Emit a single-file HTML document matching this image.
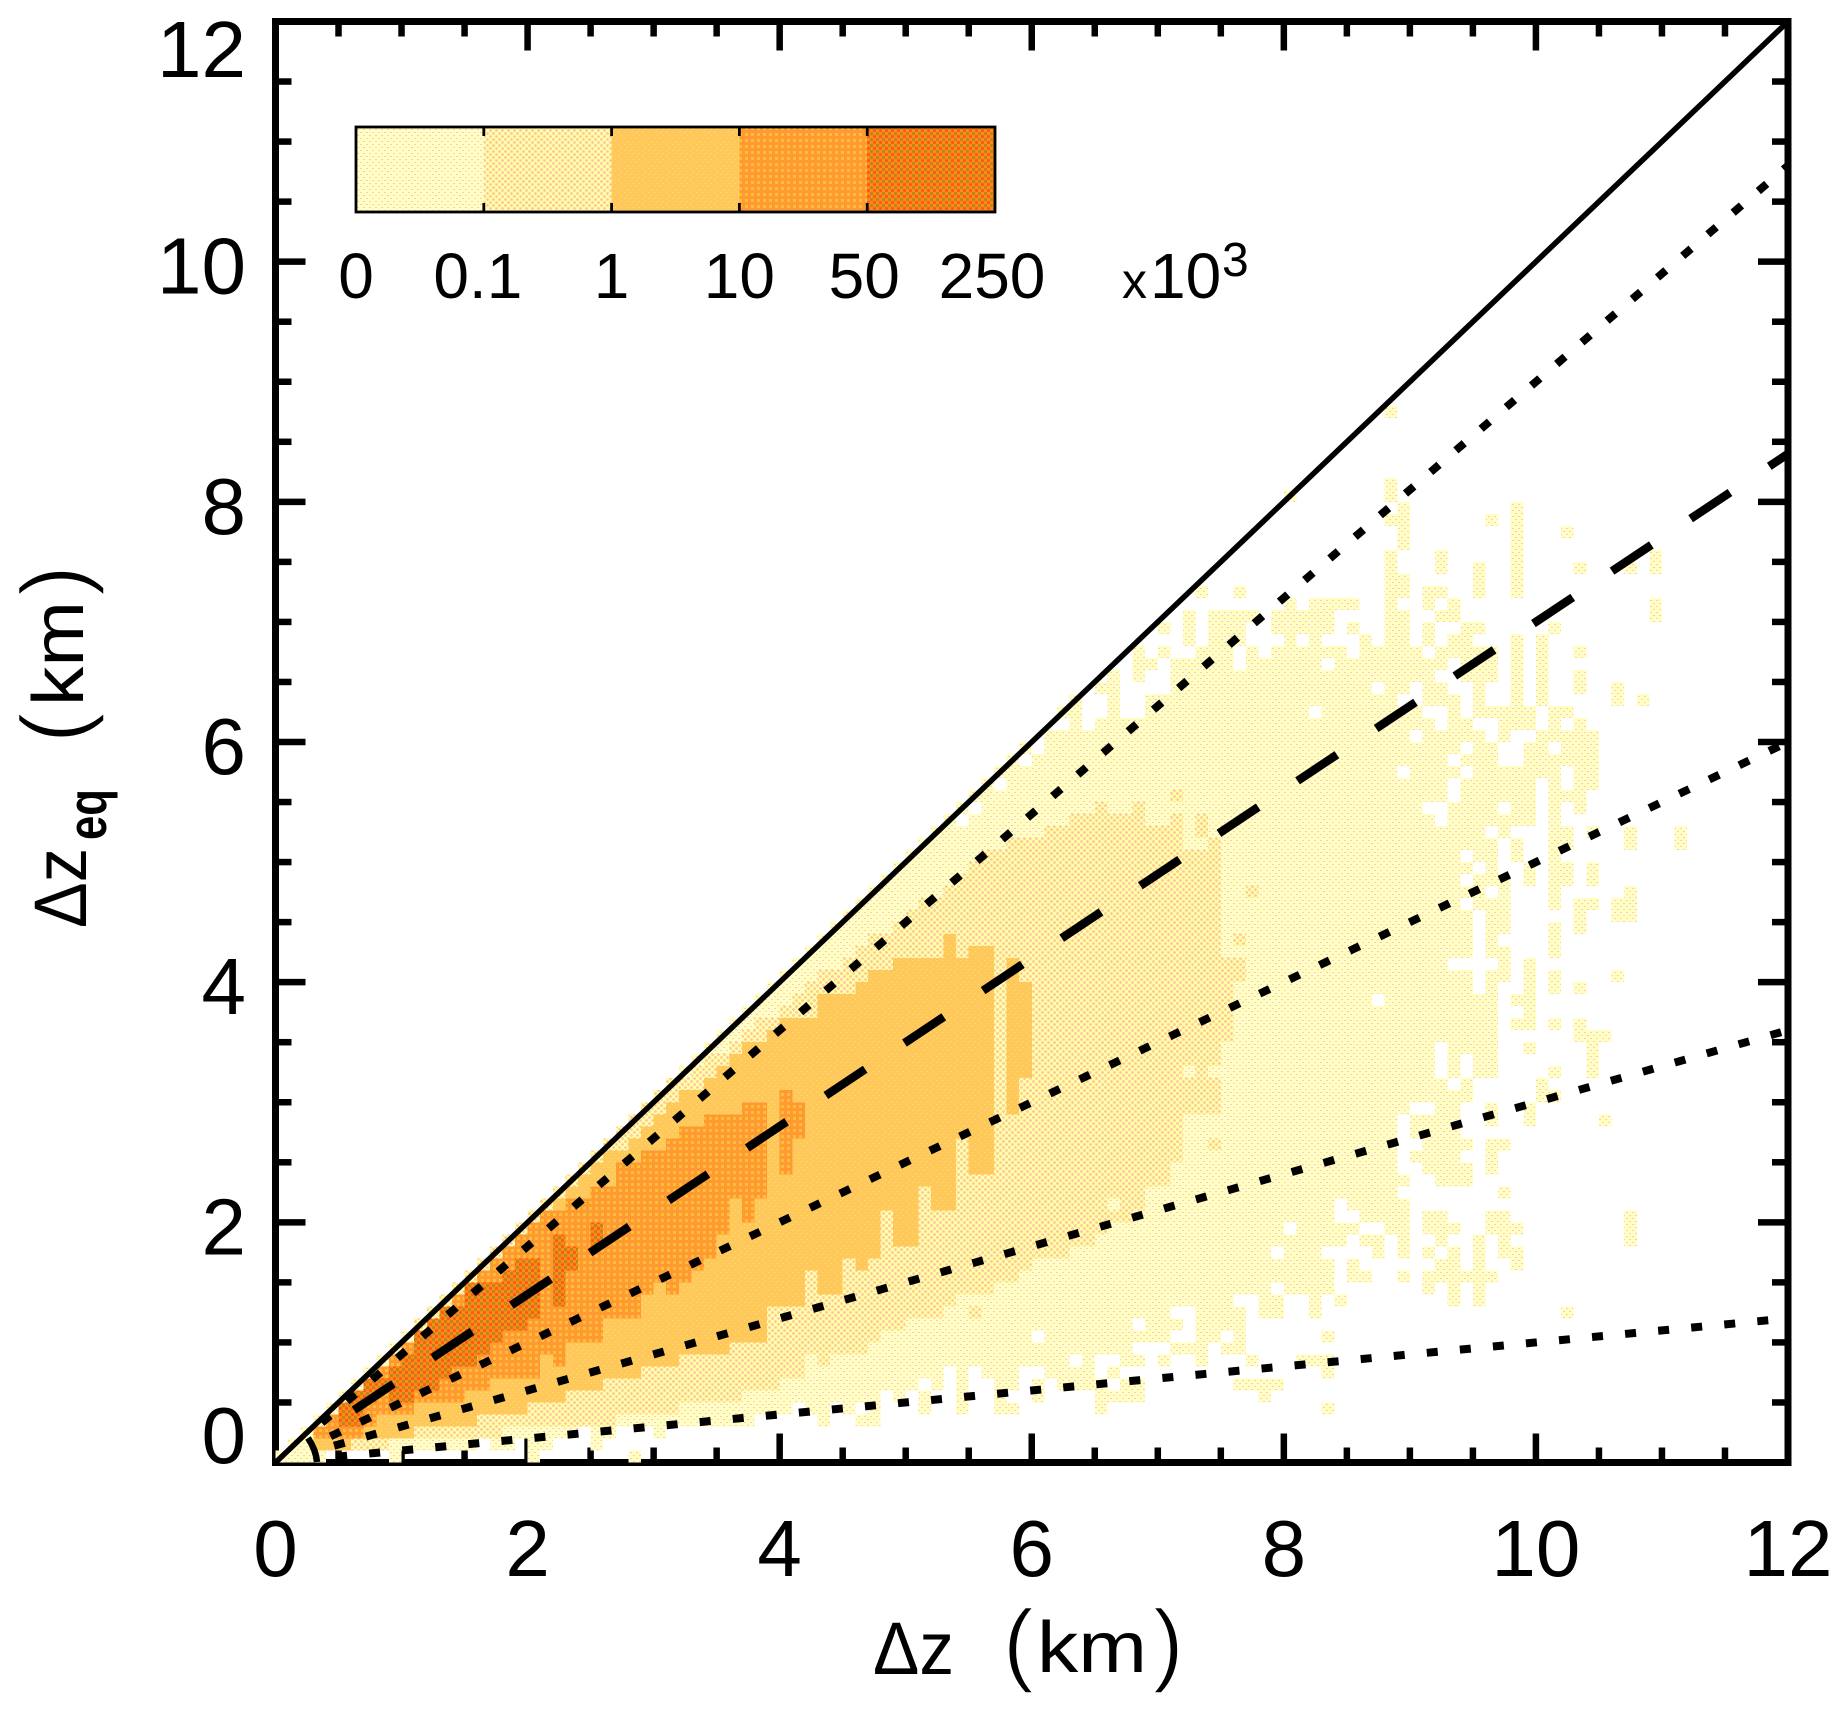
<!DOCTYPE html>
<html lang="en">
<head>
<meta charset="utf-8">
<title>Delta z equivalent vs Delta z density chart</title>
<style>
html,body{margin:0;padding:0;background:#fff;}
svg{display:block;}
text{font-family:"Liberation Sans",sans-serif;fill:#000;}
</style>
</head>
<body>
<svg id="chart" xmlns="http://www.w3.org/2000/svg" width="1847" height="1713" viewBox="0 0 1847 1713">
<defs>
<pattern id="p1" patternUnits="userSpaceOnUse" width="6" height="6"><rect width="6" height="6" fill="#FFFFC2"/><rect x="0" y="0" width="2" height="1" fill="#FFC8C8"/><rect x="3" y="3" width="2" height="1" fill="#FFC8C8"/></pattern>
<pattern id="p2" patternUnits="userSpaceOnUse" width="6" height="6"><rect width="6" height="6" fill="#FFFFA6"/><circle cx="1.5" cy="1.5" r="1.4" fill="#FFC4A0"/><circle cx="4.5" cy="4.5" r="1.4" fill="#FFC4A0"/></pattern>
<pattern id="p3" patternUnits="userSpaceOnUse" width="6" height="6"><rect width="6" height="6" fill="#FFC85F"/><rect x="0" y="0" width="1" height="1" fill="#FFE838"/><rect x="3" y="3" width="1" height="1" fill="#FFE838"/></pattern>
<pattern id="p4" patternUnits="userSpaceOnUse" width="6" height="6"><rect width="6" height="6" fill="#FF9933"/><rect x="1" y="1" width="3" height="3" fill="#FFBE33"/></pattern>
<pattern id="p5" patternUnits="userSpaceOnUse" width="6" height="6"><rect width="6" height="6" fill="#FF8A14"/><circle cx="1.5" cy="1.5" r="1.7" fill="#B8861E"/><circle cx="4.5" cy="4.5" r="1.6" fill="#F85A18"/></pattern>
<clipPath id="plot-clip"><rect x="275.5" y="21.5" width="1512.5" height="1441"/></clipPath>
</defs>
<g id="axes-layer"></g>
<g id="heat-layer"></g>
<g id="line-layer" clip-path="url(#plot-clip)"></g>
<path d="M308,1438 Q316,1450 317,1462" fill="none" stroke="#000" stroke-width="6.5"/>
<g id="label-layer"></g>
<g id="legend-layer"></g>

<g>
<text x="873" y="1674" font-size="74" textLength="81" lengthAdjust="spacingAndGlyphs">Δz</text>
<text x="1003" y="1674" font-size="92" stroke="#fff" stroke-width="1.5">(</text>
<text x="1037" y="1672" font-size="72" textLength="110" lengthAdjust="spacingAndGlyphs">km</text>
<text x="1153" y="1674" font-size="92" stroke="#fff" stroke-width="1.5">)</text>
</g>
<g>
<text transform="translate(86,928) rotate(-90)" font-size="74" textLength="80" lengthAdjust="spacingAndGlyphs">Δz</text>
<text transform="translate(106,840) rotate(-90)" font-size="55" font-weight="bold" textLength="51" lengthAdjust="spacingAndGlyphs">eq</text>
<text transform="translate(85,743) rotate(-90)" font-size="92" stroke="#fff" stroke-width="1.5">(</text>
<text transform="translate(83,706) rotate(-90)" font-size="72" textLength="105" lengthAdjust="spacingAndGlyphs">km</text>
<text transform="translate(85,596) rotate(-90)" font-size="92" stroke="#fff" stroke-width="1.5">)</text>
</g>
</svg>
<script>
// Axis values (km)
const xMajorTicks = [0, 2, 4, 6, 8, 10, 12];
const yMajorTicks = [0, 2, 4, 6, 8, 10, 12];
const xTickLabels = ["0", "2", "4", "6", "8", "10", "12"];
const yTickLabels = ["0", "2", "4", "6", "8", "10", "12"];
const minorStep = [0.5];
const binWidthKm = [0.1];

// Ratio lines: dz_eq = ratio * dz
const solidRatios = [1.0];
const dashedRatios = [0.7];
const dottedRatios = [0.9, 0.5, 0.3, 0.1];

// Colorbar
const colorbarLabels = ["0", "0.1", "1", "10", "50", "250"];
const colorbarLevels = [1, 2, 3, 4, 5];

// Histogram occupancy per level: [yBin, startXBin, endXBin, startXBin, endXBin, ...] (0.1 km bins)
const level1Runs = [
[0,0,3,9,9,20,20,28,28],[1,1,15,17,18,20,21,25,25],[2,2,23,25,26,30,30],[3,3,37,43,43,46,47],
[4,4,40,42,43,45,45,47,47,51,51,54,54,57,58,65,65,83,83],[5,5,47,49,49,51,51,54,54,57,57,60,60,65,68,78,78],
[6,6,50,52,52,54,54,57,58,60,60,62,65,67,68,76,79],[7,7,52,54,54,56,58,61,64,66,66,83,83],
[8,8,62,64,64,67,68,70,70,73,73,77,77,81,83],[9,9,67,71,73,75,76],[10,10,59,61,70,73,74,76,76,83,83],
[11,11,67,69,71,73,76],[12,12,70,73,76,78,79,82,82,102,102],[13,13,75,78,79,82,82,84,84,93,93,95,95],
[14,14,78,80,83,91,91,93,93,95,95],[15,15,83,85,86,89,89,91,96],[16,16,83,85,85,92,93,95,95,98,98],
[17,17,78,80,82,87,87,89,89,91,91,93,93,95,95,97,98],[18,18,84,86,87,89,89,92,92,95,95,97,97,107,107],
[19,19,79,81,85,88,89,91,93,96,98,107,107],[20,20,83,86,89,91,92,96,97,107,107],[21,21,83,85,89],
[22,22,88,97,97],[23,23,89,92,94],[24,24,88,91,94,96,96],[25,25,88,90,93,96,96],[26,26,88,91,94,96,97],
[27,27,88,90,93],[28,28,88,90,93,96,96,99,99,105,105],[29,29,89,92,93,96,96,99,99],[30,30,94,100,101],
[31,31,92,94,94,100,100],[32,32,91,93,93,95,96,101,101,104,104],[33,33,91,93,93,95,96,104,104],
[34,34,91,93,96,99,99,104,104],[35,35,96,103,105],[36,36,96,98,99,101,101,103,103],[37,37,96,99,99],
[38,38,86,88,96,98,99],[39,39,94,96,96,99,99,101,101,103,103],[40,40,94,96,97,99,99,101,101,106,106],
[41,41,92,97,97,99,99],[42,42,94,96,97,101,101],[43,43,94,96,96,101,101],[44,44,94,96,97,101,101,103,103],
[45,45,94,96,97,103,103,106,107],[46,46,93,95,97,101,101,103,104,106,107],[47,47,95,97,97,101,101,107,107],
[48,48,93,95,97,99,99,101,102,104,104],[49,49,94,96,96,99,99,101,102,104,104],[50,50,93,95,96,98,98,101,101],
[51,51,96,98,98,101,102,107,107,111,111],[52,52,95,97,97,101,102,104,104,107,107,111,111],
[53,53,53,55,91,93,99,101,101],[54,54,54,56,90,93,96,98,99,101,101,103,103],[55,55,92,94,99,101,103],
[56,56,56,58,92,94,99,101,101,103,104],[57,57,88,90,93,95,101,103,104],[58,58,58,60,92,94,96,99,104],
[59,59,59,61,93,95,96,99,100,102,104],[60,61,89,91,95,97,97,100,104],
[61,63,63,65,91,93,94,97,99,101,101,103,103],[62,62,63,66,66,69,81,83,90,93,93,95,99,101,102],
[63,63,63,66,66,69,88,91,93,95,95,98,98,100,100,106,106,108,108],
[64,65,66,71,86,88,89,91,92,95,95,98,98,100,100,103,103,106,106],
[65,66,66,68,68,71,91,94,96,98,98,100,100,103,103],[66,68,69,71,75,77,82,84,92,94,96,98,98,100,100],
[67,68,68,70,70,73,75,77,77,79,84,86,90,92,96,98,98,100,100,103,103],
[68,72,72,74,76,80,80,82,82,86,86,88,89,91,91,93,94,98,98,100,100],
[69,70,70,72,72,74,76,79,83,85,85,88,89,91,91,94,95,101,101],[70,72,72,74,77,79,83,88,89,92,93,109,109],
[71,80,80,82,85,88,88,91,91,93,93,109,109],[72,73,73,76,76,88,89,91,92,95,95,98,98],[73,88,89,95,95,98,98],
[74,88,88,92,92,95,95,98,98,103,103,107,107,109,109],[75,88,88,92,92,98,98,109,109],[76,89,89,98,98],
[77,89,89,98,98,102,102],[78,88,89,96,96,98,98],[79,89,89,98,98],[80,80,80,88,88],[81,88,88],[87,88,88]
];
const level2Runs = [
[1,6,8],[2,10,17],[3,14,26],[4,18,31],[5,20,36],[6,24,39],[7,27,41],[8,30,41,43,43],[9,34,46],[10,36,47],
[11,11,49],[12,12,52,55,55],[13,13,53],[14,14,56],[15,15,58],[16,16,59],[17,17,62],[18,18,64],[19,19,65],
[20,20,67],[21,21,65,67,68],[22,22,68],[23,23,70],[24,24,70],[25,25,71],[26,26,71,74,74],[27,27,71],[28,28,71],
[29,29,74],[30,30,74],[31,31,74],[32,33,71,73,73],[33,34,74],[34,36,74],[35,37,75],[36,38,75],[37,40,75],
[38,41,75],[39,42,75],[40,43,76],[41,45,76],[42,46,74],[43,47,74,76,76],[44,49,74],[45,50,74],[46,51,74],
[47,53,74,77,77],[48,54,74],[49,55,74],[50,56,74],[51,58,71,74,74],[52,61,71,73,73],[53,63,68,71,71,73,73],
[54,65,65,68,68],[55,71,71]
];
const level3Runs = [
[1,3,5],[2,3,10],[3,4,15],[4,5,19],[5,6,22],[6,7,25],[7,8,28],[8,9,31],[9,10,35],[10,11,38],[11,12,38],[12,13,38],
[13,14,41],[14,15,41,43,44],[15,16,41,43,44],[16,17,44,46,46],[17,18,47],[18,19,47,49,50],[19,20,47,49,50],
[20,21,47,49,50],[21,22,50,52,53],[22,23,50,52,53],[23,24,53],[24,25,53,55,56],[25,26,53,55,56],[26,28,53,55,56],
[27,29,56],[28,30,56],[29,31,56,58,58],[30,32,56,58,58],[31,34,56,58,58],[32,35,56,58,59],[33,36,56,58,59],
[34,37,56,58,59],[35,39,56,58,59],[36,40,56,58,59],[37,43,56,58,59],[38,43,56,58,59],[39,46,56,58,59],
[40,47,56,58,58],[41,49,56,58,58],[42,53,53,55,56],[43,53,53]
];
const level4Runs = [
[2,3,6],[3,4,7],[4,5,10],[5,6,14],[6,7,16],[7,8,20],[8,9,20,22,22],[9,10,22],[10,11,25],[11,12,25],[12,13,28],
[13,14,28],[14,15,29,31,31],[15,16,32],[16,17,33],[17,18,34],[18,19,34],[19,20,35],[20,21,35,37,37],[21,23,35,37,37],
[22,25,38],[23,27,38],[24,27,38,40,40],[25,29,38,40,40],[26,31,38,40,40],[27,32,38,40,41],[28,34,38,40,41],
[29,37,38,40,41],[30,40,40]
];
const level5Runs = [
[3,5,6],[4,5,6],[5,6,7,9,10],[6,7,12],[7,9,13],[8,10,15],[9,11,16],[10,11,17],[11,12,19],[12,13,20],
[13,15,20,22,22],[14,15,20,22,22],[15,18,20,22,22],[16,19,20,22,23],[17,22,23],[18,22,22,25,25],[19,25,25]
];

const NS = 'http://www.w3.org/2000/svg';
const plot = { left: 275.5, right: 1788, top: 21.5, bottom: 1462.5, max: 12 };
function xScale(v) { return plot.left + v / plot.max * (plot.right - plot.left); }
function yScale(v) { return plot.bottom - v / plot.max * (plot.bottom - plot.top); }
function mk(tag, attrs, parent) {
  const el = document.createElementNS(NS, tag);
  for (const k in attrs) el.setAttribute(k, attrs[k]);
  parent.appendChild(el);
  return el;
}
const axesLayer = document.getElementById('axes-layer');
const heatLayer = document.getElementById('heat-layer');
const lineLayer = document.getElementById('line-layer');
const labelLayer = document.getElementById('label-layer');
const legendLayer = document.getElementById('legend-layer');

// Plot frame
const frame = mk('rect', { x: plot.left, y: plot.top, width: plot.right - plot.left, height: plot.bottom - plot.top, fill: 'none', stroke: '#000', 'stroke-width': 7, 'stroke-linejoin': 'miter' }, axesLayer);



function tickLine(x1, y1, x2, y2, name) {
  const t = mk('line', { x1: x1, y1: y1, x2: x2, y2: y2, stroke: '#000', 'stroke-width': 6.5 }, axesLayer);
  
  
}
const tickCount = Math.round(plot.max / minorStep[0]);
for (let n = 0; n <= tickCount; n++) {
  const v = n * minorStep[0];
  const isXMajor = xMajorTicks.indexOf(v) >= 0;
  const isYMajor = yMajorTicks.indexOf(v) >= 0;
  const xl = isXMajor ? 29 : 15;
  const yl = isYMajor ? 30 : 16;
  if (n > 0 && n < tickCount) {
    tickLine(xScale(v), plot.bottom, xScale(v), plot.bottom - xl, 'x-tick-bottom');
    tickLine(xScale(v), plot.top, xScale(v), plot.top + xl, 'x-tick-top');
    tickLine(plot.left, yScale(v), plot.left + yl, yScale(v), 'y-tick-left');
    tickLine(plot.right, yScale(v), plot.right - yl, yScale(v), 'y-tick-right');
  }
}

// Heatmap
function drawLevel(runs, level) {
  runs.forEach(function (row) {
    const j = row[0];
    for (let k = 1; k + 1 < row.length; k += 2) {
      const i0 = row[k], i1 = row[k + 1];
      const x0 = xScale(i0 * binWidthKm[0]);
      const x1 = xScale((i1 + 1) * binWidthKm[0]);
      const yTop = yScale((j + 1) * binWidthKm[0]);
      const yBot = yScale(j * binWidthKm[0]);
      const r = mk('rect', { x: x0, y: yTop, width: x1 - x0, height: yBot - yTop, fill: 'url(#p' + level + ')', 'shape-rendering': 'crispEdges' }, heatLayer);
      
      
    }
  });
}
drawLevel(level1Runs, 1);
drawLevel(level2Runs, 2);
drawLevel(level3Runs, 3);
drawLevel(level4Runs, 4);
drawLevel(level5Runs, 5);

// Ratio lines
function ratioLine(ratio, style) {
  const x0 = xScale(0), y0 = yScale(0);
  const x1 = xScale(plot.max), y1 = yScale(ratio * plot.max);
  const len = Math.hypot(x1 - x0, y1 - y0);
  const ux = (x1 - x0) / len, uy = (y1 - y0) / len;
  let s0 = 0;
  const attrs = { fill: 'none', stroke: '#000' };
  if (style === 'solid') {
    attrs['stroke-width'] = 5.5;
  } else if (style === 'dashed') {
    s0 = 94.5;
    attrs['stroke-width'] = 8.5;
    attrs['stroke-dasharray'] = '47.25 47.25';
  } else {
    s0 = 58;
    attrs['stroke-width'] = 8;
    attrs['stroke-dasharray'] = '11 22.2';
    attrs['stroke-dashoffset'] = s0 - (33.2 - 5.5);
  }
  attrs.x1 = x0 + ux * s0;
  attrs.y1 = y0 + uy * s0;
  attrs.x2 = x1;
  attrs.y2 = y1;
  return mk('line', attrs, lineLayer);
}
solidRatios.forEach(function (r) {
  const l = ratioLine(r, 'solid');
  
  
});
dashedRatios.forEach(function (r) {
  const l = ratioLine(r, 'dashed');
  
  
});
dottedRatios.forEach(function (r) {
  const l = ratioLine(r, 'dotted');
  
  
});

// Tick labels
xMajorTicks.forEach(function (v, idx) {
  const t = mk('text', { x: xScale(v) + (v === 0 ? 0 : 0), y: 1576, 'font-size': 80, 'text-anchor': 'middle' }, labelLayer);
  
  
  t.textContent = xTickLabels[idx];
});
yMajorTicks.forEach(function (v, idx) {
  const base = Math.min(1463, Math.max(77, yScale(v) + 32));
  const t = mk('text', { x: 246, y: base, 'font-size': 80, 'text-anchor': 'end' }, labelLayer);
  
  
  t.textContent = yTickLabels[idx];
});

// Colorbar
const cb = { left: 356, right: 995, top: 127, bottom: 212 };
const segW = (cb.right - cb.left) / colorbarLevels.length;
colorbarLevels.forEach(function (lvl, idx) {
  const s = mk('rect', { x: cb.left + idx * segW, y: cb.top, width: segW, height: cb.bottom - cb.top, fill: 'url(#p' + lvl + ')', 'shape-rendering': 'crispEdges' }, legendLayer);
  
  
});
const cbBorder = mk('rect', { x: cb.left, y: cb.top, width: cb.right - cb.left, height: cb.bottom - cb.top, fill: 'none', stroke: '#000', 'stroke-width': 2.8 }, legendLayer);


colorbarLabels.forEach(function (lab, idx) {
  const x = cb.left + idx * segW;
  if (idx > 0 && idx < colorbarLabels.length - 1) {
    const t1 = mk('line', { x1: x, y1: cb.top, x2: x, y2: cb.top + 9, stroke: '#000', 'stroke-width': 2.8 }, legendLayer);
    
    
    const t2 = mk('line', { x1: x, y1: cb.bottom, x2: x, y2: cb.bottom - 9, stroke: '#000', 'stroke-width': 2.8 }, legendLayer);
    
    
  }
  const t = mk('text', { x: x - (idx === 1 ? 6 : idx > 3 ? 3 : 0), y: 298, 'font-size': 64, 'text-anchor': 'middle' }, legendLayer);
  
  
  t.textContent = lab;
});
const unitX = mk('text', { x: 1122, y: 298, 'font-size': 50 }, legendLayer);


unitX.textContent = 'x';
const unit = mk('text', { x: 1150, y: 298, 'font-size': 64 }, legendLayer);


unit.textContent = '10';
const unitExp = mk('text', { x: 1222, y: 276, 'font-size': 48 }, legendLayer);


unitExp.textContent = '3';
</script>
</body>
</html>
